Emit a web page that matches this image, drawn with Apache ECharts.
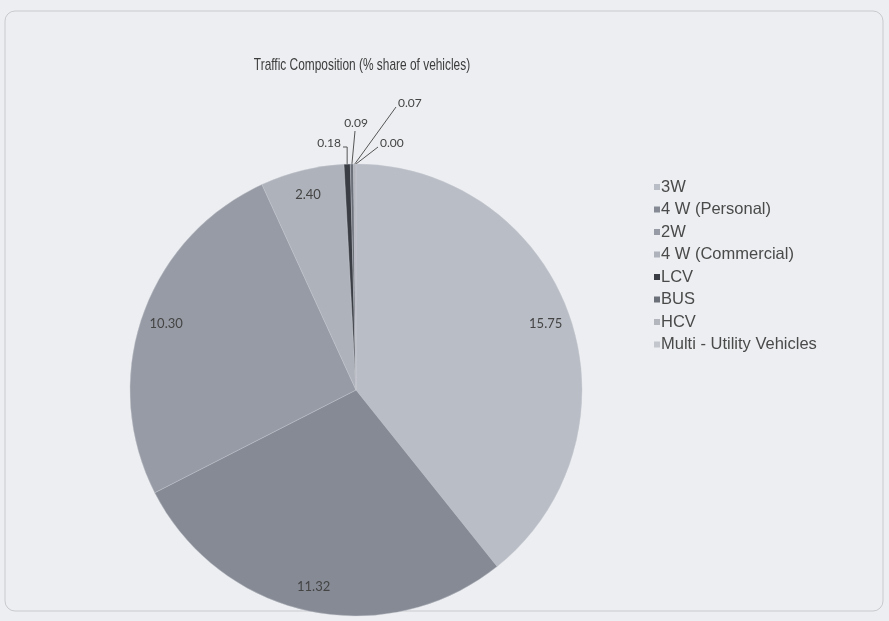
<!DOCTYPE html>
<html><head><meta charset="utf-8">
<script src="https://cdn.jsdelivr.net/npm/echarts@6/dist/echarts.min.js"></script>
<style>html,body{margin:0;padding:0;background:#eceef1;} #c{width:889px;height:621px;}</style>
</head><body><div id="c"></div>
<script>
const categories = ['3W', '4 W (Personal)', '2W', '4 W (Commercial)', 'LCV', 'BUS', 'HCV', 'Multi - Utility Vehicles'];
const shares = [15.75, 11.32, 10.30, 2.40, 0.18, 0.09, 0.07, 0.00];
const sliceColors = ['#b9bdc6', '#858a94', '#979ba5', '#aeb2ba', '#3a3d44', '#6c7079', '#b3b6bd', '#c3c6cc'];
const chartTitle = 'Traffic Composition (% share of vehicles)';

const smallCount = 4; // first four are large slices with inside labels
const center = [356, 390];
const radius = 226;

// label placement for the tiny slices (style only)
const tinyLabelStyle = {
  4: { x: 341, y: 143, align: 'right', line: (a) => [[a[0], a[1]], [a[0], 147], [343, 147]] },
  5: { x: 356, y: 123, align: 'center', line: (a) => [[a[0], a[1]], [355, 131]] },
  6: { x: 398, y: 103, align: 'left', line: (a) => [[a[0], a[1]], [396, 107]] },
  7: { x: 380, y: 143, align: 'left', line: (a) => [[a[0], a[1]], [378, 147]] }
};

const mainData = categories.map((n, i) => ({
  name: n, value: shares[i],
  itemStyle: { color: sliceColors[i] },
  label: { show: i >= smallCount },
  labelLine: { show: i >= smallCount }
}));
const overlayData = categories.map((n, i) => ({
  name: n, value: shares[i],
  label: { show: i < smallCount }
}));

const chart = echarts.init(document.getElementById('c'));
chart.setOption({
  backgroundColor: '#eceef1',
  animation: false,
  legend: {
    orient: 'vertical', left: 649, top: 173,
    icon: 'rect', itemWidth: 6, itemHeight: 6, itemGap: 4.5,
    itemStyle: { borderWidth: 0 },
    textStyle: { fontFamily: 'Liberation Sans', fontSize: 16.5, color: '#4a4a4a', lineHeight: 18, padding: [0, 0, 0, -4] },
    data: categories
  },
  graphic: [{
    type: 'rect', silent: true, z: -10,
    shape: { x: 5, y: 11, width: 878, height: 600, r: 10 },
    style: { fill: 'none', stroke: '#c8cacd', lineWidth: 1 }
  }, {
    type: 'text', silent: true, x: 362, y: 65, scaleX: 0.7,
    style: { text: chartTitle, align: 'center', verticalAlign: 'middle',
      fontFamily: 'Liberation Sans', fontSize: 17, fill: '#3c3c3c' }
  }],
  series: [{
    type: 'pie', center: center, radius: radius,
    startAngle: 90, clockwise: true, minAngle: 0,
    avoidLabelOverlap: false, silent: true,
    data: mainData,
    itemStyle: { borderColor: '#c5c8ce', borderWidth: 0.4 },
    label: { position: 'outside', formatter: (p) => p.value.toFixed(2), fontFamily: 'Lato', fontSize: 12, color: '#444' },
    labelLine: { length: 10, length2: 10, lineStyle: { color: '#555', width: 1 } },
    labelLayout: function (p) {
      const s = tinyLabelStyle[p.dataIndex];
      if (!s) return {};
      const a = p.labelLinePoints ? p.labelLinePoints[0] : [center[0], center[1] - radius];
      return { x: s.x, y: s.y, align: s.align, verticalAlign: 'middle', labelLinePoints: s.line(a) };
    }
  }, {
    type: 'pie', center: center, radius: 396,
    startAngle: 90, clockwise: true, silent: true, legendHoverLink: false,
    data: overlayData,
    itemStyle: { color: 'rgba(0,0,0,0)' },
    label: { position: 'inside', formatter: (p) => p.value.toFixed(2), fontFamily: 'Lato', fontSize: 13, color: '#444' },
    labelLine: { show: false }, z: 5
  }]
});
</script></body></html>
